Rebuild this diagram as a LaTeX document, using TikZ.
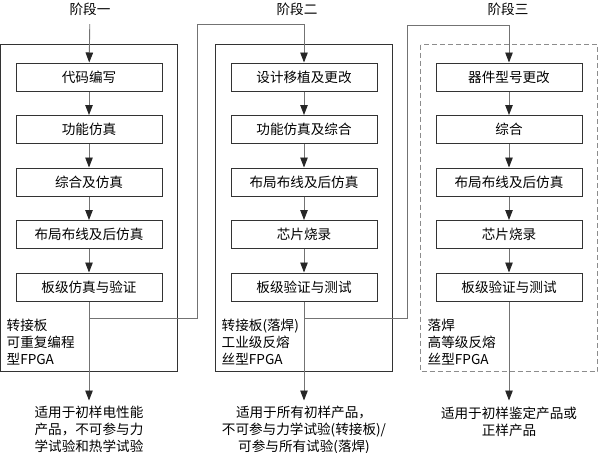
\documentclass[tikz,border=0pt]{standalone}
\usepackage{fontspec}
\setmainfont{Noto Sans CJK SC}
\usepackage{tikz}
\usetikzlibrary{arrows.meta,positioning,calc}

\begin{document}
\begin{tikzpicture}[
  x=1pt, y=1pt,
  node distance=23.5pt,
  every node/.style={font=\fontsize{13.6}{17}\selectfont},
  title/.style  ={minimum height=30pt, inner sep=0pt},
  stepbox/.style={rectangle, draw=black!80, line width=1pt,
                  minimum height=28pt, minimum width=146pt, inner sep=0pt},
  frame/.style  ={draw=black!80, line width=1pt},
  dframe/.style ={draw=black!45, line width=0.9pt, dash pattern=on 5pt off 3pt},
  note/.style   ={align=left, inner sep=0pt, anchor=north west},
  result/.style ={align=center, inner sep=0pt, outer sep=6pt, anchor=north},
  link/.style   ={draw=black!55, line width=0.9pt},
  arr/.style    ={link, -{Triangle[length=10pt, width=7.5pt, color=black!85]}}
]
  \useasboundingbox (0,0) rectangle (598,-453);

  \node[title] (t1) at (90,-9)  {阶段一};
  \node[title] (t2) at (297,-9) {阶段二};
  \node[title] (t3) at (508,-9) {阶段三};

  % stage 1
  \node[stepbox]              (a1) at (89,-77) {代码编写};
  \node[stepbox, below=of a1] (a2) {功能仿真};
  \node[stepbox, below=of a2] (a3) {综合及仿真};
  \node[stepbox, below=of a3] (a4) {布局布线及后仿真};
  \node[stepbox, below=of a4] (a5) {板级仿真与验证};

  % stage 2
  \node[stepbox]              (b1) at (304,-77) {设计移植及更改};
  \node[stepbox, below=of b1] (b2) {功能仿真及综合};
  \node[stepbox, below=of b2] (b3) {布局布线及后仿真};
  \node[stepbox, below=of b3] (b4) {芯片烧录};
  \node[stepbox, below=of b4] (b5) {板级验证与测试};

  % stage 3
  \node[stepbox]              (c1) at (509,-77) {器件型号更改};
  \node[stepbox, below=of c1] (c2) {综合};
  \node[stepbox, below=of c2] (c3) {布局布线及后仿真};
  \node[stepbox, below=of c3] (c4) {芯片烧录};
  \node[stepbox, below=of c4] (c5) {板级验证与测试};

  \draw[frame]  ($(a1.north west)+(-15,18)$) rectangle ($(a5.south east)+(15,-70)$);
  \draw[frame]  ($(b1.north west)+(-15,18)$) rectangle ($(b5.south east)+(15,-70)$);
  \draw[dframe] ($(c1.north west)+(-15,18)$) rectangle ($(c5.south east)+(15,-70)$);

  \node[note] (n1) at ($(a5.south west)+(-9,-17)$) {转接板\\可重复编程\\型FPGA};
  \node[note] (n2) at ($(b5.south west)+(-9,-17)$) {转接板(落焊)\\工业级反熔\\丝型FPGA};
  \node[note] (n3) at ($(c5.south west)+(-8,-17)$) {落焊\\高等级反熔\\丝型FPGA};

  \node[result] (r1) at ($(a5.south)+(0,-99)$) {适用于初样电性能\\产品，不可参与力\\学试验和热学试验};
  \node[result] (r2) at ($(b5.south)+(0,-99)$) {适用于所有初样产品，\\不可参与力学试验(转接板)/\\可参与所有试验(落焊)};
  \node[result] (r3) at ($(c5.south)+(0,-99)$) {适用于初样鉴定产品或\\正样产品};

  \coordinate (j1) at ($(a5.south)+(0,-17)$);
  \coordinate (k1) at (197,-24);
  \coordinate (j2) at ($(b5.south)+(0,-17)$);
  \coordinate (k2) at (407,-25);

  \draw[arr] (t1) -- (a1);
  \foreach \s in {a,b,c}
    \foreach \i/\j in {1/2,2/3,3/4,4/5}
      \draw[arr] (\s\i) -- (\s\j);
  \draw[arr] (a5) -- (r1);
  \draw[arr] (b5) -- (r2);
  \draw[arr] (c5) -- (r3);
  \draw[arr] (j1) -| (k1) -| (b1.north);
  \draw[arr] (j2) -| (k2) -| (c1.north);
\end{tikzpicture}
\end{document}
